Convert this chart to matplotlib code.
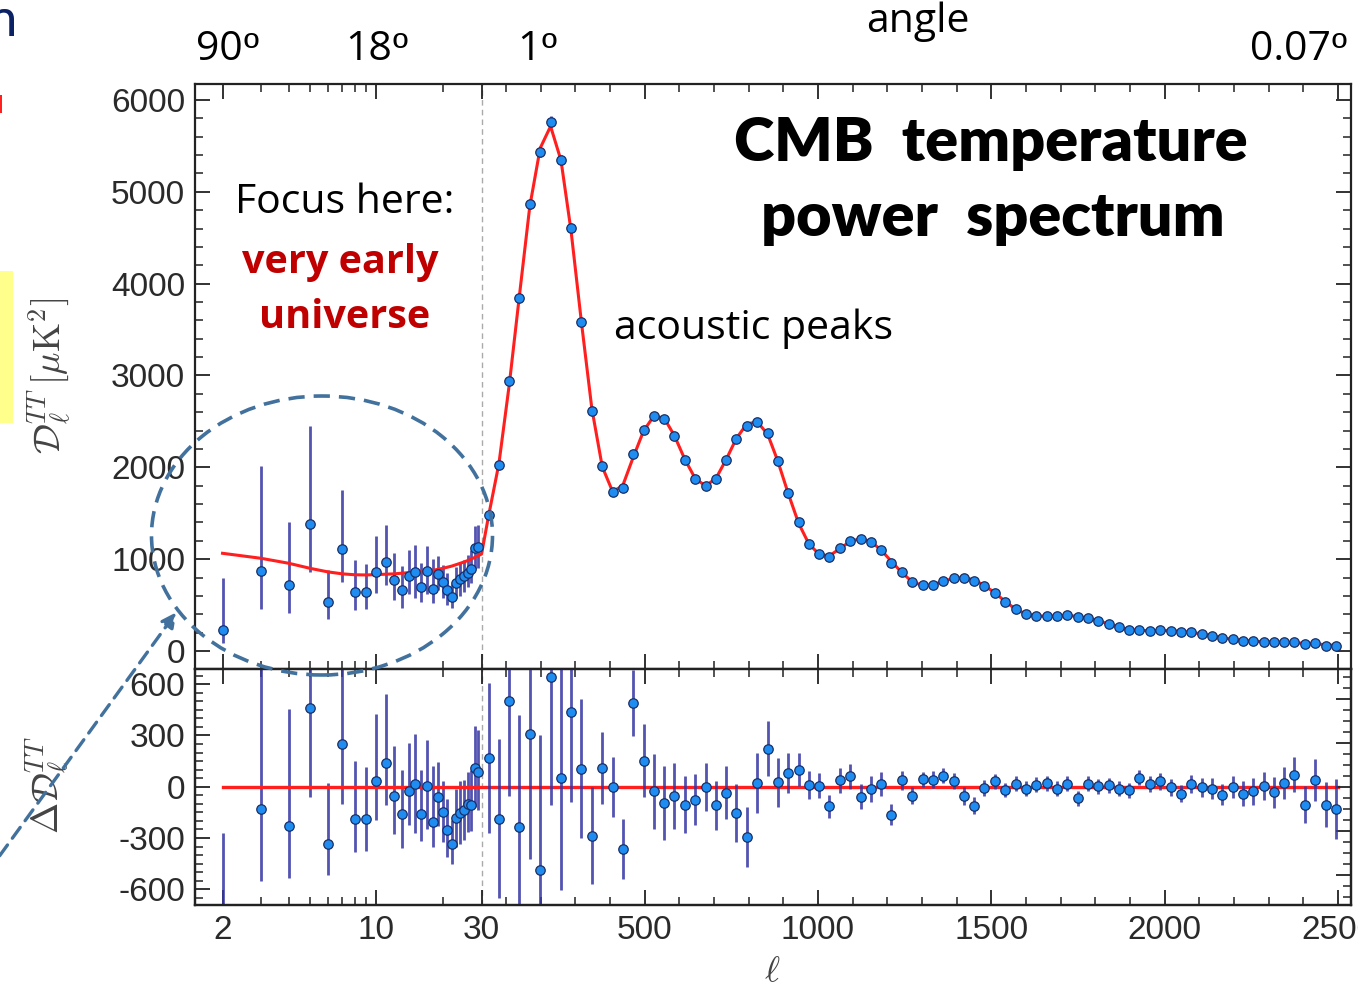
import numpy as np
import matplotlib
matplotlib.use("Agg")
import matplotlib.pyplot as plt
from matplotlib.patches import Ellipse, Rectangle, FancyArrowPatch
from matplotlib.ticker import FixedLocator, MultipleLocator, NullFormatter

plt.rcParams['font.family'] = ['Liberation Sans', 'DejaVu Sans']
plt.rcParams['mathtext.fontset'] = 'cm'
plt.rcParams['axes.unicode_minus'] = False

# ---------------- data ----------------
ell_low = [2, 3, 4, 5, 6, 7, 8, 9, 10, 11, 12, 13, 14, 15, 16, 17, 18, 19, 20,
           21, 22, 23, 24, 25, 26, 27, 28, 29]
D_low = [229, 875, 719, 1380, 530, 1107, 646, 646, 857, 972, 773, 664, 817, 864,
         694, 871, 672, 839, 755, 664, 591, 744, 784, 817, 853, 890, 1118, 1129]
D_low_errlo = [140, 420, 305, 520, 186, 355, 195, 190, 230, 250, 220, 200, 200, 285,
               158, 250, 145, 170, 175, 160, 120, 170, 180, 175, 160, 150, 225, 225]
D_low_errhi = [563, 1140, 685, 1065, 352, 650, 340, 305, 390, 400, 295, 260, 280, 290,
               260, 270, 330, 200, 185, 180, 140, 170, 185, 175, 190, 205, 245, 245]
res_low = [-835, -132, -228, 460, -333, 252, -188, -188, 35, 141, -55, -160, -25, 17,
           -160, 2, -207, -58, -150, -252, -334, -182, -153, -134, -103, -108, 108, 88]

ell_high = [50, 80, 110, 139, 169, 199, 229, 259, 288, 318, 348, 378, 408, 437, 467,
            497, 527, 557, 586, 616, 646, 676, 706, 735, 765, 795, 825, 855, 884, 914,
            944, 974, 1004, 1033, 1063, 1093, 1123, 1153, 1182, 1212, 1242, 1272, 1302,
            1331, 1361, 1391, 1421, 1451, 1480, 1510, 1540, 1570, 1600, 1629, 1659, 1689,
            1719, 1749, 1778, 1808, 1838, 1868, 1898, 1927, 1957, 1987, 2017, 2047, 2076,
            2106, 2136, 2166, 2196, 2225, 2255, 2285, 2315, 2345, 2374, 2404, 2434, 2464,
            2494]
D_high = [1481, 2026, 2944, 3848, 4865, 5437, 5764, 5347, 4610, 3586, 2617, 2015, 1735,
          1772, 2145, 2407, 2559, 2526, 2341, 2080, 1873, 1797, 1873, 2080, 2305, 2450,
          2497, 2377, 2072, 1724, 1401, 1165, 1053, 1027, 1118, 1198, 1220, 1190, 1100,
          962, 857, 749, 717, 724, 764, 793, 797, 764, 713, 637, 538, 458, 400, 382, 382,
          382, 389, 371, 360, 331, 295, 258, 233, 229, 222, 226, 222, 211, 204, 186, 164,
          142, 127, 113, 106, 102, 98, 98, 95, 76, 84, 58, 51]
res_high = [13.2, -14.4, 38.9, -18.2, 24.2, -37.6, 50, 4.1, 34, 8.3, -22, 8.6, 0, -28,
            37.9, 12, -2, -7.3, -4.2, -8, -5.8, 0, -8.3, -2.7, -11.8, -22.7, 1.8, 17.3,
            2.1, 6.4, 7.9, 0.8, 0.6, -8.8, 3, 4.8, -4.5, -0.9, 1.5, -12.6,
            3, -3.9, 3.6, 3.3, 5.2, 2.9, -4.2, -8.5, -0.5, 2.6, -1.2, 1.5, -0.8, 1.1, 1.8,
            -0.8, 1.4, -5, 1.4, 0.3, 0.8, -0.8, -1.5, 4.1, 1.4, 2.6, -0.2, -3, 1.4, -0.2,
            -0.8, -3.5, -0.2, -3, -2, 0.6, -2.4, 1.8, 5.6, -8, 3.3, -8, -9.8]
err_high = [34, 36, 43, 51, 57, 61, 58, 51, 41, 31.5, 22, 16.4, 13.6, 13.7, 15, 16.4, 17,
            16.7, 15, 13, 11.5, 11, 11, 12, 13, 13.7, 13.6, 12.5, 11, 9, 7.5, 6.3, 5.7,
            5.3, 5.7, 5.5, 5.7, 5.9, 5.5, 4.8,
            4.2, 4, 3.4, 3.8, 3.6, 3.6, 4, 3.8, 3.8, 3.4, 3.2, 3.4, 3.4, 3.4, 3.4, 3.4,
            3.4, 3.4, 3.4, 3.4, 3.4, 3.4, 3.4, 3.4, 3.6, 3.8, 3.8, 3.8, 4, 4.2, 4.8, 4.7,
            5, 5.5, 6, 6.4, 6.9, 7.4, 8, 8.3, 9.5, 10.2, 13.6]

theory_ell = [2, 3, 4, 5, 6, 7, 8, 9, 10, 12, 14, 16, 18, 20, 22, 24, 26, 28, 30] + ell_high
theory_D = [1064, 1009, 955, 900, 862, 840, 830, 828, 832, 840, 853, 865, 878, 900, 925,
            955, 985, 1020, 1056,
            1468, 2040, 2905, 3866, 4841, 5475, 5714, 5343, 4576, 3578, 2639, 2006, 1735,
            1800, 2107, 2395, 2561, 2533, 2345, 2088, 1879, 1797, 1881, 2083, 2317, 2473,
            2495, 2360, 2070, 1718, 1393, 1164, 1052, 1036, 1115, 1193, 1224, 1191, 1099,
            975, 854, 753, 713, 721, 759, 790, 801, 772, 713, 634, 539, 456, 401, 381, 380,
            383, 388, 376, 359, 331, 294, 259, 234, 225, 221, 223, 222, 214, 203, 186, 165,
            145, 127, 116, 108, 101, 100, 96, 89, 84, 81, 66, 61]

angle_nums = ["90", "18", "1", "0.07"]
angle_pos = [2.1, 10, 190, 2385]

xmajor = [2, 10, 30, 500, 1000, 1500, 2000, 2500]
xmajor_labels = ["2", "10", "30", "500", "1000", "1500", "2000", "2500"]
xminor = [3, 4, 5, 6, 7, 8, 9, 20] + [100, 200, 300, 400, 600, 700, 800, 900, 1100, 1200,
                                      1300, 1400, 1600, 1700, 1800, 1900, 2100, 2200, 2300, 2400]

# ---------------- hybrid log/linear x scale ----------------
A = 220.2
B = 0.3467
L30 = np.log10(30) * A


def fwd(x):
    x = np.asarray(x, dtype=float)
    with np.errstate(all='ignore'):
        lg = A * np.log10(np.clip(x, 1e-6, None))
    return np.where(x <= 30, lg, L30 + (x - 30) * B)


def inv(y):
    y = np.asarray(y, dtype=float)
    with np.errstate(all='ignore'):
        return np.where(y <= L30, 10 ** (np.clip(y, -1e3, 1e3) / A), 30 + (y - L30) / B)


W, H = 1358, 994
fig = plt.figure(figsize=(W / 100, H / 100), dpi=100)
fx = lambda x: x / W
fy = lambda y: 1 - y / H

L, R = 195, 1351
ax1 = fig.add_axes([fx(L), fy(669), (R - L) / W, (669 - 84) / H])
ax2 = fig.add_axes([fx(L), fy(905), (R - L) / W, (905 - 669) / H])

bar_col = '#3535a3'
pt_face = '#1e8cf0'
pt_edge = '#1a2f66'
red = '#ff1f1f'
spine_col = '#222222'
tick_col = '#2a2a2a'

for ax in (ax1, ax2):
    ax.set_xscale('function', functions=(fwd, inv))
    ax.set_xlim(1.5, 2537)
    ax.xaxis.set_major_locator(FixedLocator(xmajor))
    ax.xaxis.set_minor_locator(FixedLocator(xminor))
    ax.xaxis.set_minor_formatter(NullFormatter())
    for s in ax.spines.values():
        s.set_linewidth(1.6)
        s.set_color(spine_col)
    ax.tick_params(which='major', direction='in', length=11, width=1.3, top=True,
                   right=True, labelsize=24, labelcolor=tick_col, color=spine_col, pad=7)
    ax.tick_params(which='minor', direction='in', length=6, width=1.1, top=True,
                   right=True, color=spine_col)
    ax.axvline(30, color='#aaaaaa', lw=1, ls=(0, (4, 3)), zorder=1)

# ---- upper panel ----
ax1.set_ylim(-196, 6174)
ax1.yaxis.set_major_locator(MultipleLocator(1000))
ax1.yaxis.set_minor_locator(MultipleLocator(200))
ax1.tick_params(labelbottom=False)
ax1.errorbar(ell_low, D_low, yerr=[D_low_errlo, D_low_errhi], fmt='none',
             ecolor=bar_col, elinewidth=2.0, alpha=0.85, zorder=2)
ax1.errorbar(ell_high, D_high, yerr=err_high, fmt='none',
             ecolor=bar_col, elinewidth=2.0, alpha=0.85, zorder=2)
ax1.plot(theory_ell, theory_D, color=red, lw=2.2, zorder=3)
ax1.plot(ell_low, D_low, 'o', ms=6.8, mfc=pt_face, mec=pt_edge, mew=0.9, zorder=4)
ax1.plot(ell_high, D_high, 'o', ms=6.8, mfc=pt_face, mec=pt_edge, mew=0.9, zorder=4)

# ---- lower panel ----
ax2.set_ylim(-692, 689)
ax2.yaxis.set_major_locator(FixedLocator([-600, -300, 0, 300, 600]))
ax2.yaxis.set_minor_locator(MultipleLocator(50))
ax2.tick_params(which='both', right=False)
ax2.set_xticklabels(xmajor_labels)
ax2.errorbar(ell_low, res_low, yerr=[D_low_errlo, D_low_errhi], fmt='none',
             ecolor=bar_col, elinewidth=2.0, alpha=0.85, zorder=2)
ax2.plot([2, 2500], [0, 0], color=red, lw=2.4, zorder=3)
ax2.plot(ell_low, res_low, 'o', ms=6.8, mfc=pt_face, mec=pt_edge, mew=0.9, zorder=4)

ax3 = ax2.twinx()
ax3.set_ylim(-53.5, 53.5)
ax3.yaxis.set_major_locator(MultipleLocator(20))
ax3.yaxis.set_minor_locator(MultipleLocator(5))
ax3.tick_params(which='major', direction='in', length=11, width=1.3, labelright=False,
                color=spine_col)
ax3.tick_params(which='minor', direction='in', length=6, width=1.1, color=spine_col)
for s in ax3.spines.values():
    s.set_linewidth(1.6)
    s.set_color(spine_col)
ax3.errorbar(ell_high, res_high, yerr=err_high, fmt='none',
             ecolor=bar_col, elinewidth=2.0, alpha=0.85, zorder=2)
ax3.plot(ell_high, res_high, 'o', ms=6.8, mfc=pt_face, mec=pt_edge, mew=0.9, zorder=4)

# ---- axis labels ----
fig.text(fx(50), fy(376), r'$\mathcal{D}_\ell^{TT}\,[\mu{\rm K}^2]$', rotation=90,
         ha='center', va='center', fontsize=27, color='#444444')
fig.text(fx(48), fy(785), r'$\Delta\mathcal{D}_\ell^{TT}$', rotation=90,
         ha='center', va='center', fontsize=27, color='#444444')
fig.text(fx(772), fy(972), r'$\ell$', ha='center', va='center', fontsize=26, color='#444444')

# ---- slide annotations ----
slide = ['Open Sans', 'DejaVu Sans']
# angle labels: number followed by an underlined ordinal sign "º"
for num, pos in zip(angle_nums, angle_pos):
    t = ax1.annotate(num, xy=(pos, 1.0), xycoords=('data', 'axes fraction'),
                     xytext=(-8, 34), textcoords='offset pixels', ha='center',
                     va='center', fontsize=29.5, family=slide, color='black')
    ax1.annotate('º', xy=(1, 0.5), xycoords=t, xytext=(1, 0), textcoords='offset pixels',
                 ha='left', va='center', fontsize=29.5, family=['Liberation Sans'],
                 color='black')
fig.text(fx(918), fy(22), 'angle', ha='center', va='center', fontsize=29.5, family=slide)

fig.text(fx(345), fy(203), 'Focus here:', ha='center', va='center', fontsize=29.5, family=slide)
fig.text(fx(340), fy(262), 'very early', ha='center', va='center', fontsize=28.5,
         family=slide, weight='bold', color='#c00000')
fig.text(fx(345), fy(318), 'universe', ha='center', va='center', fontsize=28.5,
         family=slide, weight='bold', color='#c00000')
fig.text(fx(614), fy(329), 'acoustic peaks', ha='left', va='center', fontsize=29.5,
         family=slide)
fig.text(fx(991), fy(143), 'CMB  temperature', ha='center', va='center', fontsize=44,
         family=['Lato', 'DejaVu Sans'], weight='heavy')
fig.text(fx(993), fy(218), 'power  spectrum', ha='center', va='center', fontsize=44,
         family=['Lato', 'DejaVu Sans'], weight='heavy')

# ellipse and arrow
circ_col = '#41719c'
ell_patch = Ellipse((fx(322), fy(535.5)), 341 / W, 279 / H, transform=fig.transFigure,
                    fill=False, edgecolor=circ_col, lw=2.6, ls=(0, (4.5, 2.5)), zorder=10)
fig.add_artist(ell_patch)
arrow = FancyArrowPatch((fx(-2), fy(858)), (fx(178), fy(610)), transform=fig.transFigure,
                        arrowstyle='-|>', mutation_scale=22, color=circ_col, lw=2.4,
                        linestyle=(0, (4, 2.5)), zorder=10)
fig.add_artist(arrow)

# slide fragments at the left edge
fig.add_artist(Rectangle((0, fy(423)), 12.7 / W, 152 / H, transform=fig.transFigure,
                         facecolor='#ffff8c', edgecolor='none', zorder=5))
fig.add_artist(Rectangle((0, fy(113)), 2 / W, 18 / H, transform=fig.transFigure,
                         facecolor='#ff2020', edgecolor='none', zorder=5))
fig.text(fx(17), fy(36), 'n', ha='right', va='baseline', fontsize=38,
         family=['Lato', 'DejaVu Sans'], color='#0b2265')

fig.savefig('out.png', dpi=100)
